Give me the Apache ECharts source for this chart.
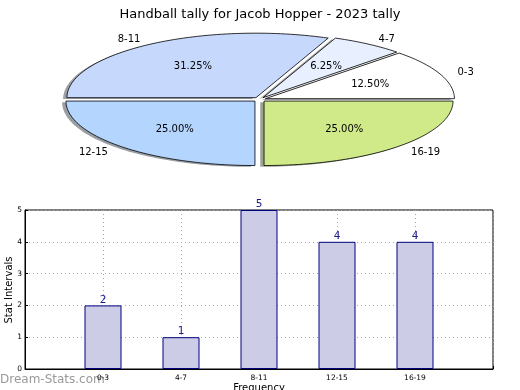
<!DOCTYPE html>
<html>
<head>
<meta charset="utf-8">
<script src="https://cdn.jsdelivr.net/npm/echarts@6/dist/echarts.min.js"></script>
<style>html,body{margin:0;padding:0;background:#fff;}#c{width:520px;height:390px;}</style>
</head>
<body>
<div id="c"></div>
<script>
const titleText = 'Handball tally for Jacob Hopper - 2023 tally';
const categories = ['0-3', '4-7', '8-11', '12-15', '16-19'];
const counts = [2, 1, 5, 4, 4];
const percentLabels = ['12.50%', '6.25%', '31.25%', '25.00%', '25.00%'];
const sliceColors = ['#ffffff', '#e8f0ff', '#c6d9fd', '#b4d5fe', '#d0ea8a'];
const yTicks = [0, 1, 2, 3, 4, 5];
const yAxisTitle = 'Stat Intervals';
const xAxisTitle = 'Frequency';

const FONT = 'DejaVu Sans';
const chart = echarts.init(document.getElementById('c'), null, {renderer: 'canvas'});

// pie geometry (layout only)
const PCX = 259.5, PCY = 99.5, RX = 189, RY = 64.5, EXPLODE = 0.034;
const total = counts.reduce((a, b) => a + b, 0);
const startAngles = [];
let acc = 0;
counts.forEach(v => { startAngles.push(acc); acc += v / total * 2 * Math.PI; });

function darken(hex) {
  const n = parseInt(hex.slice(1), 16);
  const r = Math.round(((n >> 16) & 255) * 0.3), g = Math.round(((n >> 8) & 255) * 0.3), b = Math.round((n & 255) * 0.3);
  return 'rgba(' + r + ',' + g + ',' + b + ',0.5)';
}

function sectorPts(cx, cy, a0, a1) {
  const pts = [[cx, cy]];
  const n = Math.max(6, Math.ceil((a1 - a0) / (Math.PI / 120)));
  for (let i = 0; i <= n; i++) {
    const a = a0 + (a1 - a0) * i / n;
    pts.push([cx + RX * Math.cos(a), cy - RY * Math.sin(a)]);
  }
  return pts;
}

function renderSlice(params, api) {
  const i = params.dataIndex;
  const v = api.value(1);
  const a0 = startAngles[i];
  const a1 = a0 + v / total * 2 * Math.PI;
  const mid = (a0 + a1) / 2;
  const cx = PCX + EXPLODE * RX * Math.cos(mid);
  const cy = PCY - EXPLODE * RY * Math.sin(mid);
  const pts = sectorPts(cx, cy, a0, a1);
  const shadowPts = pts.map(p => [p[0] - 3.8, p[1] + 1.3]);
  const lx = cx + 1.1 * RX * Math.cos(mid);
  const ly = cy - 1.1 * RY * Math.sin(mid) + 1;
  const px = cx + 0.6 * RX * Math.cos(mid);
  const py = cy - 0.6 * RY * Math.sin(mid) + 1;
  return {
    type: 'group',
    children: [
      {type: 'polygon', shape: {points: shadowPts}, style: {fill: darken(sliceColors[i]), stroke: null}},
      {type: 'polygon', shape: {points: pts}, style: {fill: sliceColors[i], stroke: '#000', lineWidth: 0.8}},
      {type: 'text', x: lx, y: ly, style: {text: categories[i], fill: '#000', font: '10px "' + FONT + '"',
        align: Math.cos(mid) < 0 ? 'right' : 'left', verticalAlign: 'middle'}},
      {type: 'text', x: px, y: py, style: {text: percentLabels[i], fill: '#000', font: '10px "' + FONT + '"',
        align: 'center', verticalAlign: 'middle'}}
    ]
  };
}

const xCats = [''].concat(categories).concat(['']);
const barData = [null].concat(counts).concat([null]);

chart.setOption({
  animation: false,
  backgroundColor: '#fff',
  textStyle: {fontFamily: FONT},
  title: {text: titleText, left: 'center', top: 3,
    textStyle: {fontSize: 13, fontWeight: 'normal', color: '#000', fontFamily: FONT}},
  graphic: [
    {type: 'text', left: 0, top: 374,
      style: {text: 'Dream-Stats.com', fill: '#9a9a9a', font: '12px "' + FONT + '"'}},
    {type: 'text', x: 9, y: 290, rotation: Math.PI / 2,
      style: {text: yAxisTitle, fill: '#000', font: '10px "' + FONT + '"', align: 'center', verticalAlign: 'middle'}}
  ],
  grid: {left: 25, right: 27, top: 210, bottom: 21, show: true, borderColor: '#000', borderWidth: 1,
    containLabel: false, outerBoundsMode: 'none'},
  xAxis: {
    type: 'category', data: xCats, boundaryGap: false,
    name: xAxisTitle, nameLocation: 'middle', nameGap: 14, nameMoveOverlap: false,
    nameTextStyle: {fontSize: 10, color: '#000', fontFamily: FONT},
    axisLine: {lineStyle: {color: '#000'}},
    axisTick: {inside: true, length: 3, lineStyle: {color: '#000'}},
    axisLabel: {interval: 0, fontSize: 7.5, color: '#000', margin: 5, fontFamily: FONT},
    splitLine: {show: true, lineStyle: {type: [1, 3], color: '#a8a8a8'}}
  },
  yAxis: {
    type: 'value', min: 0, max: 5, interval: 1,
    axisLine: {show: true, lineStyle: {color: '#000'}},
    axisTick: {show: true, inside: true, length: 3, lineStyle: {color: '#000'}},
    axisLabel: {fontSize: 7.5, color: '#000', margin: 3, fontFamily: FONT,
      formatter: v => yTicks.indexOf(v) >= 0 ? String(v) : ''},
    splitLine: {show: true, lineStyle: {type: [1, 3], color: '#a8a8a8'}}
  },
  series: [
    {
      type: 'custom', coordinateSystem: 'none',
      data: categories.map((c, i) => [i, counts[i]]),
      renderItem: renderSlice,
      silent: true
    },
    {
      type: 'bar', data: barData, barWidth: 37,
      itemStyle: {color: '#ccccE6', borderColor: '#000080', borderWidth: 1},
      label: {show: true, position: 'top', distance: 0, fontSize: 10.5, color: '#1a1a8c', fontFamily: FONT},
      z: 1
    }
  ]
});
</script>
</body>
</html>
